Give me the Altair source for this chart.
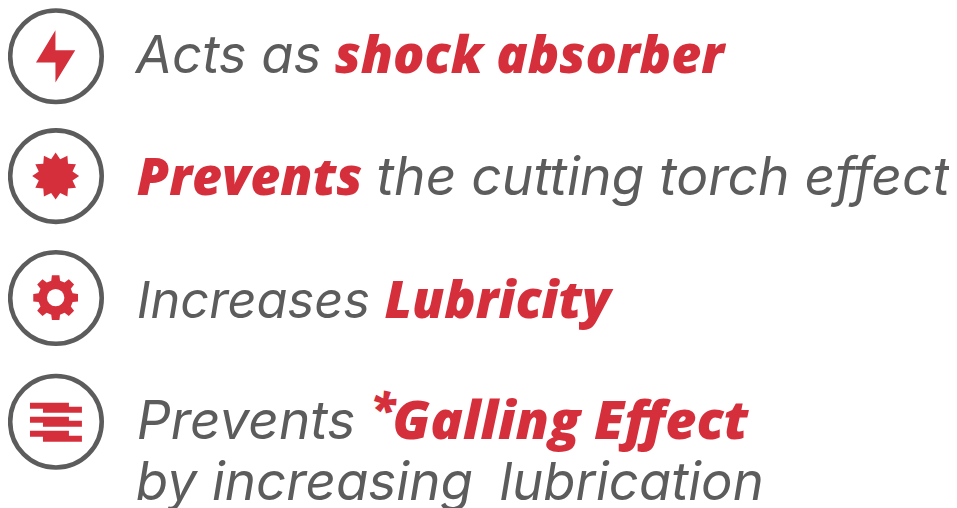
import math
import altair as alt
import pandas as pd

GREY = "#5c5c5c"
RED = "#d62f3c"

# ring centres
ring_x = [56, 56, 56, 56]
ring_y = [56, 176, 298, 422]

# text segments
seg_text = ["Acts as", "shock absorber", "Prevents", "the cutting torch effect", "Increases", "Lubricity",
            "Prevents", "*", "Galling Effect", "by increasing", "lubrication"]
seg_x = [136, 335, 137, 377, 137, 385, 137, 371, 393, 136, 500]
seg_y = [73, 73, 195, 195, 318, 318, 439, 426, 439, 500, 500]
seg_bold = [0, 1, 1, 0, 0, 1, 0, 1, 1, 0, 0]
seg_size = [52.6, 52, 52, 53.4, 50.6, 52, 53.2, 46, 54, 53, 52.6]

# stripes of the fourth icon
bar_x1 = [30, 43, 30, 43, 30, 43]
bar_x2 = [69, 82, 69, 82, 69, 82]
bar_y1 = [403, 407, 417, 421, 431, 436]
bar_y2 = [409, 413, 423, 427, 437, 442]

# icons, as offsets from their centre
bolt_pts = [(0, -26), (-19.5, 6.3), (0, 6.3), (0, 26.3), (19.8, -6), (0, -6)]
icon_x = [55.5, 55.7, 55.7]
icon_y = [56, 176, 297.7]


def path_of(pts):
    return "M" + "L".join(f"{a:.2f},{b:.2f}" for a, b in pts) + "Z"


star_pts = []
for k in range(24):
    r = 23.5 if k % 2 == 0 else 17.5
    t = math.radians(k * 15)
    star_pts.append((r * math.sin(t), -r * math.cos(t)))

gear_pts = []
for k in range(8):
    c = math.radians(k * 45)
    for r, off in [(17.6, -14.5), (22.7, -9.5), (22.7, 9.5), (17.6, 14.5)]:
        t = c + math.radians(off)
        gear_pts.append((r * math.sin(t), -r * math.cos(t)))

W, H = 942, 500
xs = alt.Scale(domain=[8, 8 + W], nice=False, zero=False)
ys = alt.Scale(domain=[8 + H, 8], nice=False, zero=False)
X = lambda f: alt.X(f, type="quantitative", scale=xs, axis=None)
Y = lambda f: alt.Y(f, type="quantitative", scale=ys, axis=None)

rings = alt.Chart(pd.DataFrame({"x": ring_x, "y": ring_y})).mark_point(
    shape="circle", size=91.6 * 91.6, filled=False, stroke=GREY, strokeWidth=4.6, opacity=1
).encode(x=X("x"), y=Y("y"))

bars = alt.Chart(pd.DataFrame({"x": bar_x1, "x2": bar_x2, "y": bar_y1, "y2": bar_y2})).mark_rect(
    color=RED
).encode(x=X("x"), x2="x2", y=Y("y"), y2="y2")

layers = [rings, bars]
for (px, py, pts) in zip(icon_x, icon_y, [bolt_pts, star_pts, gear_pts]):
    layers.append(
        alt.Chart(pd.DataFrame({"x": [px], "y": [py]})).mark_point(
            shape=path_of(pts), size=4, filled=True, fill=RED, strokeWidth=0, opacity=1
        ).encode(x=X("x"), y=Y("y"))
    )
layers.append(
    alt.Chart(pd.DataFrame({"x": [icon_x[2]], "y": [icon_y[2]]})).mark_point(
        shape="circle", size=17.4 * 17.4, filled=True, fill="white", strokeWidth=0, opacity=1
    ).encode(x=X("x"), y=Y("y"))
)

df = pd.DataFrame({"x": seg_x, "y": seg_y, "t": seg_text, "b": seg_bold, "s": seg_size})
for flag, col, weight, font in [(0, GREY, 400, "Inter"), (1, RED, 800, "Open Sans")]:
    layers.append(
        alt.Chart(df[df.b == flag]).mark_text(
            align="left", baseline="alphabetic", font=font, fontStyle="italic", fontWeight=weight, color=col
        ).encode(x=X("x"), y=Y("y"), text="t:N", size=alt.Size("s:Q", scale=None, legend=None))
    )

chart = alt.layer(*layers).resolve_scale(size="independent").properties(
    width=W, height=H, padding=0, background="white",
    autosize=alt.AutoSizeParams(type="none"),
).configure_view(stroke=None)

chart.save("out.html", embed_options={"renderer": "svg", "actions": False})
